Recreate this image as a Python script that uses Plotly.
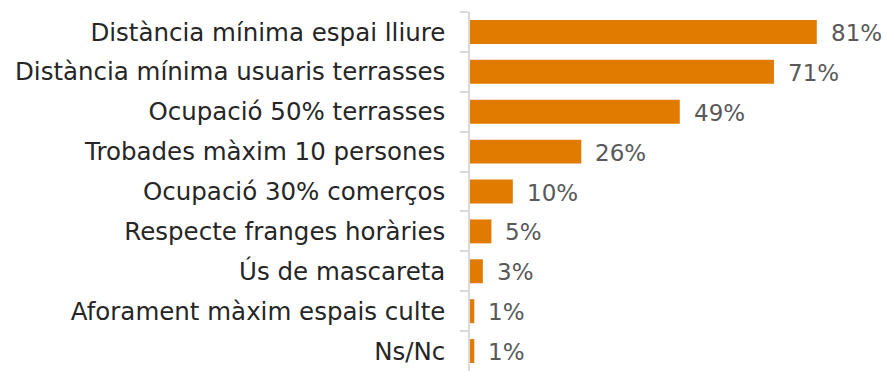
import plotly.graph_objects as go

# Mesures i percentatge de compliment
categories = [
    "Distància mínima espai lliure",
    "Distància mínima usuaris terrasses",
    "Ocupació 50% terrasses",
    "Trobades màxim 10 persones",
    "Ocupació 30% comerços",
    "Respecte franges horàries",
    "Ús de mascareta",
    "Aforament màxim espais culte",
    "Ns/Nc",
]
values = [81, 71, 49, 26, 10, 5, 3, 1, 1]
value_labels = ["81%", "71%", "49%", "26%", "10%", "5%", "3%", "1%", "1%"]

BAR_COLOR = "#E07B00"
FONT = "Century Gothic, DejaVu Sans, sans-serif"

fig = go.Figure(
    go.Bar(
        x=values,
        y=categories,
        orientation="h",
        marker=dict(color=BAR_COLOR, line=dict(width=0)),
        hoverinfo="skip",
    )
)

for cat, val, lab in zip(categories, values, value_labels):
    fig.add_annotation(
        x=val, y=cat, text=lab, showarrow=False,
        xanchor="left", xshift=12, yshift=-1,
        font=dict(family=FONT, size=23, color="#595959"),
    )

fig.update_layout(
    width=887, height=371,
    margin=dict(l=470, r=0, t=12, b=0),
    plot_bgcolor="white", paper_bgcolor="white",
    bargap=0.4,
    showlegend=False,
    xaxis=dict(range=[0, 97.4], visible=False),
    yaxis=dict(
        autorange="reversed",
        showline=True, linecolor="#D9D9D9", linewidth=1.5,
        ticks="outside", tickson="boundaries", ticklen=8,
        tickcolor="#D9D9D9", tickwidth=1.5,
        ticklabelstandoff=18,
        tickfont=dict(family=FONT, size=24.5, color="#262626"),
        showgrid=False,
    ),
)

fig.write_html("out.html")
